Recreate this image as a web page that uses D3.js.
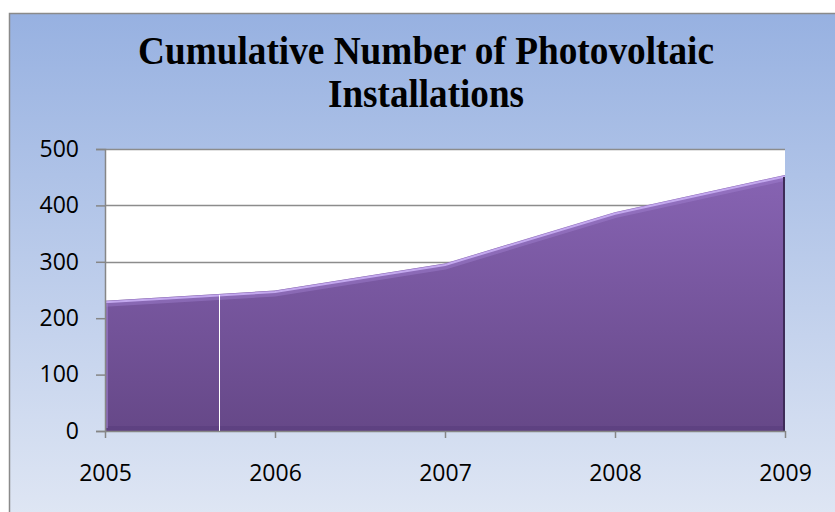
<!DOCTYPE html>
<html>
<head>
<meta charset="utf-8">
<script src="https://cdn.jsdelivr.net/npm/d3@7"></script>
<style>
  body { margin: 0; background: #fff; }
</style>
</head>
<body>
<div id="chart"></div>
<script>
const years = [2005, 2006, 2007, 2008, 2009];
const installations = [231, 249, 297, 388, 454];
const yTicks = [0, 100, 200, 300, 400, 500];
const titleLines = ["Cumulative Number of Photovoltaic", "Installations"];
const titleWidths = [576, 196];
// thin white seam seen inside the area
const seamYears = [2005.67];

const W = 835, H = 512;
const margin = { top: 149, right: 50, bottom: 81, left: 105 };
const width = W - margin.left - margin.right;
const height = H - margin.top - margin.bottom;

const data = years.map((y, i) => ({ year: y, value: installations[i] }));

const svg = d3.select("#chart").append("svg")
  .attr("width", W)
  .attr("height", H);

const defs = svg.append("defs");

const bg = defs.append("linearGradient")
  .attr("id", "bg")
  .attr("x1", 0).attr("y1", 0).attr("x2", 0).attr("y2", 1);
bg.append("stop").attr("offset", "0%").attr("stop-color", "#97b1e1");
bg.append("stop").attr("offset", "100%").attr("stop-color", "#e0e7f4");

const fill = defs.append("linearGradient")
  .attr("id", "fill")
  .attr("gradientUnits", "userSpaceOnUse")
  .attr("x1", 0).attr("y1", 0).attr("x2", 0).attr("y2", height);
fill.append("stop").attr("offset", "0%").attr("stop-color", "#8a66b7");
fill.append("stop").attr("offset", "100%").attr("stop-color", "#664888");

// chart frame
svg.append("rect")
  .attr("x", 9.5).attr("y", 13.5)
  .attr("width", W).attr("height", H)
  .attr("fill", "url(#bg)")
  .attr("stroke", "#8a8a8a")
  .attr("stroke-width", 1.5);

svg.append("g")
  .selectAll("text")
  .data(titleLines)
  .join("text")
  .attr("x", 426)
  .attr("y", (d, i) => 64 + i * 43)
  .attr("text-anchor", "middle")
  .attr("textLength", (d, i) => titleWidths[i])
  .attr("lengthAdjust", "spacingAndGlyphs")
  .attr("font-family", "'Liberation Serif', 'Times New Roman', serif")
  .attr("font-weight", "bold")
  .attr("font-size", 40)
  .attr("fill", "#000")
  .text((d) => d);

const g = svg.append("g")
  .attr("transform", "translate(" + margin.left + "," + margin.top + ")");

const x = d3.scaleLinear().domain([2005, 2009]).range([0, width]);
const y = d3.scaleLinear().domain([0, 500]).range([height, 0]);

g.append("rect")
  .attr("width", width)
  .attr("height", height)
  .attr("fill", "#fff");

// gridlines
g.append("g")
  .selectAll("line")
  .data(yTicks.slice(1))
  .join("line")
  .attr("x1", 0).attr("x2", width)
  .attr("y1", (d) => Math.round(y(d)) + 0.5)
  .attr("y2", (d) => Math.round(y(d)) + 0.5)
  .attr("stroke", "#8c8c8c")
  .attr("stroke-width", 1.5);

const area = d3.area()
  .x((d) => x(d.year))
  .y0(y(0))
  .y1((d) => y(d.value));

const topLine = d3.line()
  .x((d) => x(d.year))
  .y((d) => y(d.value));

g.append("path")
  .datum(data)
  .attr("fill", "url(#fill)")
  .attr("d", area);

// bevel: soft highlight along the top edge
g.append("path")
  .datum(data)
  .attr("fill", "none")
  .attr("stroke", "#a585d4")
  .attr("stroke-width", 6)
  .attr("opacity", 0.4)
  .attr("transform", "translate(0,3)")
  .attr("d", topLine);

g.append("path")
  .datum(data)
  .attr("fill", "none")
  .attr("stroke", "#c3a8ee")
  .attr("stroke-width", 2)
  .attr("transform", "translate(0,1.5)")
  .attr("d", topLine);

// bevel: darker band at the bottom and shadow at the right edge
g.append("rect")
  .attr("x", x(2005) + 2)
  .attr("y", y(0) - 5)
  .attr("width", x(2009) - x(2005) - 2)
  .attr("height", 5)
  .attr("fill", "#55397a")
  .attr("opacity", 0.45);

g.append("line")
  .attr("x1", x(2009) - 1).attr("x2", x(2009) - 1)
  .attr("y1", y(installations[installations.length - 1]) + 2)
  .attr("y2", y(0))
  .attr("stroke", "#3e2c58")
  .attr("stroke-width", 2);

g.append("line")
  .attr("x1", x(2005) + 2).attr("x2", x(2005) + 2)
  .attr("y1", y(installations[0]) + 3)
  .attr("y2", y(0) - 3)
  .attr("stroke", "#9d7fcc")
  .attr("stroke-width", 2)
  .attr("opacity", 0.6);

g.append("g")
  .selectAll("line")
  .data(seamYears)
  .join("line")
  .attr("x1", (d) => Math.round(x(d)) + 0.5)
  .attr("x2", (d) => Math.round(x(d)) + 0.5)
  .attr("y1", (d) => y(d3.interpolateNumber(installations[0], installations[1])(d - 2005)) + 1)
  .attr("y2", y(0))
  .attr("stroke", "#fff")
  .attr("stroke-width", 1);

const labelFont = "'Open Sans', 'Noto Sans', sans-serif";

const yAxis = g.append("g")
  .call(d3.axisLeft(y).tickValues(yTicks).tickSize(9).tickPadding(17));
yAxis.select(".domain").attr("stroke", "#868686").attr("stroke-width", 1.5);
yAxis.selectAll(".tick line").attr("stroke", "#868686").attr("stroke-width", 1.5);
yAxis.selectAll("text")
  .attr("font-family", labelFont)
  .attr("font-size", 23)
  .attr("fill", "#000");

const xAxis = g.append("g")
  .attr("transform", "translate(0," + height + ")")
  .call(d3.axisBottom(x).tickValues(years).tickFormat(d3.format("d")).tickSize(7).tickSizeOuter(0).tickPadding(27));
xAxis.select(".domain").attr("stroke", "#868686").attr("stroke-width", 1.5);
xAxis.selectAll(".tick line").attr("stroke", "#868686").attr("stroke-width", 1.5);
xAxis.selectAll("text")
  .attr("font-family", labelFont)
  .attr("font-size", 23)
  .attr("fill", "#000");
</script>
</body>
</html>
